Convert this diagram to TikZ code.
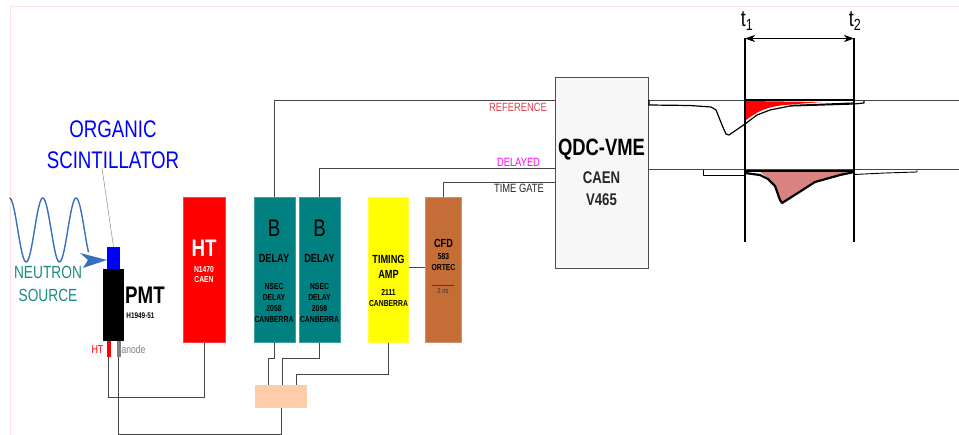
\documentclass[tikz,border=0pt]{standalone}
\usepackage{fontspec}
\setmainfont[FakeStretch=0.78]{Liberation Sans}
\usepackage{tikz}
\usetikzlibrary{arrows.meta}

\definecolor{delayteal}{RGB}{0,128,128}
\definecolor{cfdbrown}{RGB}{197,109,55}
\definecolor{peach}{RGB}{255,204,170}
\definecolor{wavecol}{RGB}{60,110,190}
\definecolor{srccol}{RGB}{25,140,130}
\definecolor{pulsecol}{RGB}{217,130,130}
\definecolor{wirecol}{RGB}{70,70,70}
\definecolor{timingyel}{RGB}{255,255,0}
\definecolor{dellblcol}{RGB}{255,0,255}
\definecolor{reflblcol}{RGB}{225,60,70}

\newcommand{\fs}[1]{\fontsize{#1}{#1}\selectfont}

\tikzset{
    modbox/.style={draw=#1!75!white, fill=#1, minimum width=41pt, minimum height=145pt, inner sep=0pt, line width=0.4pt},
    tag/.style={inner sep=0pt, align=center},
    big/.style={tag, font=\fs{11.8}\bfseries, text=black},
    small/.style={tag, font=\fontsize{8.7}{11}\selectfont\bfseries, text=black},
    wire/.style={draw=wirecol, line width=1pt},
    axis/.style={draw=black, line width=1.2pt},
    pulse/.style={draw=black, line width=1.2pt, line join=round}
}

\begin{document}
\begin{tikzpicture}[x=1pt, y=-1pt]
    \useasboundingbox (0,0) rectangle (959,435);
    \draw[red!12, line width=0.8pt] (10,435) -- (10,6.5) -- (959,6.5);

    \node[modbox=red, minimum width=42pt] (ht) at (204.5,270) {};
    \node[modbox=delayteal] (delayA) at (274.5,270) {};
    \node[modbox=delayteal] (delayB) at (319.5,270) {};
    \node[modbox=timingyel, minimum width=40pt] (timing) at (388.5,270) {};
    \node[modbox=cfdbrown, minimum width=36pt] (cfd) at (443.5,270) {};
    \node[fill=peach, minimum width=52pt, minimum height=23pt, inner sep=0pt] (sum) at (281,396.5) {};
    \node[draw=black!70, fill=black!3, minimum width=93pt, minimum height=191pt, inner sep=0pt, line width=0.7pt] (qdc) at (601.5,172.5) {};

    \node[fill=black, minimum width=21pt, minimum height=72pt, inner sep=0pt] (pmt) at (113.5,305) {};
    \node[fill=blue, minimum width=13pt, minimum height=22pt, inner sep=0pt] (scint) at (113.5,258) {};
    \node[fill=red, minimum width=4pt, minimum height=16pt, inner sep=0pt] (pmtht) at (108.5,349) {};
    \node[fill=black!50, minimum width=4pt, minimum height=16pt, inner sep=0pt] (pmtan) at (118.5,349) {};

    \node[tag, font=\fs{24}, text=blue] (organic) at (113,129) {ORGANIC};
    \node[tag, font=\fs{24}, text=blue] (scintlbl) at (113,160) {SCINTILLATOR};
    \node[tag, font=\fs{17.6}, text=srccol] (neutron) at (48,272) {NEUTRON};
    \node[tag, font=\fs{17.6}, text=srccol] (source) at (48,295) {SOURCE};
    \node[tag, font=\fs{24}\bfseries] (pmtlbl) at (145,295) {PMT};
    \node[tag, font=\fs{8.2}\bfseries] (pmtnum) at (140.5,316) {H1949-51};
    \node[tag, font=\fs{11.5}, text=red] (htlbl) at (97.5,349.5) {HT};
    \node[tag, font=\fs{11}, text=black!50] (anlbl) at (133.5,350) {anode};

    \node[tag, font=\fs{24}\bfseries, text=white] (hta) at (204,248) {HT};
    \node[tag, font=\fontsize{8.7}{10}\selectfont\bfseries, text=white] (htb) at (204,274.5) {N1470\\CAEN};

    \foreach \m/\c in {A/274,B/319.5} {
        \node[tag, font=\fs{24}] (b\m) at (\c,228) {B};
        \node[big] (d\m) at (\c,258) {DELAY};
        \node[small] (n\m) at (\c,303) {NSEC\\DELAY\\2058\\CANBERRA};
    }

    \node[big, font=\fontsize{11.8}{15}\selectfont\bfseries] (ta) at (388.5,267) {TIMING\\AMP};
    \node[small] (tb) at (388.5,298.5) {2111\\CANBERRA};
    \node[big] (ca) at (443.5,243) {CFD};
    \node[small] (cb) at (443.5,262.5) {583\\ORTEC};
    \coordinate (ruleA) at (431.5,285.7);
    \coordinate (ruleB) at (454,285.7);
    \draw[black!75, line width=0.6pt] (ruleA) -- (ruleB);
    \node[tag, font=\fs{7.5}, text=black!80] (cc) at (443,291) {2 ns};

    \node[tag, font=\fs{23.6}\bfseries] (qa) at (601.5,150) {QDC-VME};
    \node[tag, font=\fs{16.9}\bfseries, text=black!85] (qb) at (601.5,178) {CAEN};
    \node[tag, font=\fs{16.9}\bfseries, text=black!85] (qc) at (601.5,200) {V465};

    \node[tag, font=\fs{12}, text=reflblcol] (reflbl) at (518,107) {REFERENCE};
    \node[tag, font=\fs{12}, text=dellblcol] (dellbl) at (518.5,162.5) {DELAYED};
    \node[tag, font=\fs{12}, text=black!85] (gatelbl) at (519,188.5) {TIME GATE};

    \coordinate (refin) at (555,100.5);
    \coordinate (delin) at (555,168.5);
    \coordinate (gatein) at (555,182.5);
    \coordinate (sumA) at (268.5,385);
    \coordinate (sumB) at (282.5,385);
    \coordinate (sumC) at (296.5,385);
    \coordinate (sumD) at (281.5,408);

    \draw[wire] (delayA.north) |- (refin);
    \draw[wire] (delayB.north) |- (delin);
    \draw[wire] (cfd.north) |- (gatein);
    \draw[wire] ([yshift=2.5pt]timing.east) -- ([yshift=2.5pt]cfd.west);
    \draw[wire] (delayA.south) -- ++(0,16) -| (sumA);
    \draw[wire] (delayB.south) -- ++(0,16) -| (sumB);
    \draw[wire] (timing.south) -- ++(0,32) -| (sumC);
    \draw[wire] (pmtht.south) -- ++(0,40.5) -| (ht.south);
    \draw[wire] (pmtan.south) -- ++(0,77.5) -| (sumD);

    \draw[black!45, line width=0.5pt] (102,168) -- (scint.north);
    \draw[wavecol, line width=1.4pt] plot[smooth, domain=9.5:88.5, samples=90] (\x,{230-32*cos(10.81*(\x-9.5))});
    \fill[wavecol] (80,253) -- (107,260) -- (83,268) -- (88,260) -- cycle;

    \fill[red] (746,101) -- (746,120) .. controls (757,112) and (765,107) .. (785,105) -- (822,102) -- cycle;
    \fill[pulsecol] (760,172) -- (768,178) -- (775,185) -- (780,200) -- (782,203) -- (790,198) -- (815,182) -- (840,175) -- (846,172) -- cycle;

    \coordinate (refL) at (648,100.5);
    \coordinate (refR) at (959,100.5);
    \coordinate (delL) at (648,169.5);
    \coordinate (delR) at (959,169.5);
    \coordinate (t1top) at (745,38.5);
    \coordinate (t1bot) at (745,242);
    \coordinate (t2top) at (854,38.5);
    \coordinate (t2bot) at (854,242);

    \draw[wire] (refL) -- (refR);
    \draw[wire] (delL) -- (delR);
    \draw[axis] (t1top) -- (t1bot);
    \draw[axis] (t2top) -- (t2bot);
    \draw[black, line width=0.6pt, {Stealth[length=10pt,width=7pt,inset=3pt]}-{Stealth[length=10pt,width=7pt,inset=3pt]}] (t1top) -- (t2top);

    \draw[pulse] (649,100) -- (649,105) -- (690,105.5) -- (711,107) -- (716,110) -- (722,125) -- (726,134) -- (729,135) -- (745,124) -- (757,115) -- (770,110) -- (790,106) -- (854,104) -- (864,103) -- (864,101);
    \draw[black, line width=2pt] (745,100.5) -- (854,100.5);
    \draw[black, line width=1.2pt] (790,105.5) -- (854,103);
    \draw[pulse, line width=0.9pt] (703,170) -- (703,175) -- (745,175);
    \draw[pulse, line width=2.2pt] (745,173) -- (760,175) -- (768,179) -- (775,186) -- (780,200) -- (782,203) -- (790,198) -- (815,182) -- (840,175) -- (854,172);
    \draw[pulse, line width=0.9pt] (854,174.5) -- (885,173) -- (917,172) -- (917,170);
    \draw[black, line width=2.2pt] (745,171) -- (854,171);

    \node[tag, font=\fs{23}] (t1) at (747,21) {t\textsubscript{1}};
    \node[tag, font=\fs{23}] (t2) at (855,21) {t\textsubscript{2}};
\end{tikzpicture}
\end{document}
